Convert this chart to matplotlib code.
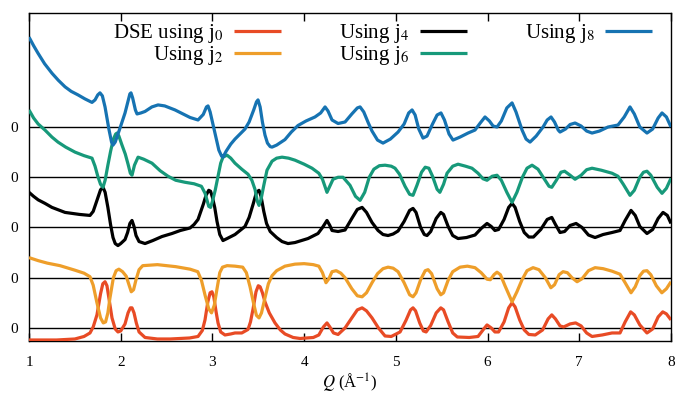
import matplotlib
matplotlib.use("Agg")
import matplotlib.pyplot as plt
import numpy as np

plt.rcParams['font.family'] = ['Liberation Serif', 'DejaVu Serif']
plt.rcParams['mathtext.fontset'] = 'stix'

# ---- data (Q in 1/Angstrom, value relative to each curve's own zero line) ----
q_j0 = [1.00, 1.30, 1.50, 1.60, 1.665, 1.70, 1.741, 1.78, 1.805, 1.829, 1.85, 1.875, 1.905, 1.94, 1.97, 2.00,
        2.047, 2.08, 2.105, 2.123, 2.145, 2.17, 2.20, 2.265, 2.40, 2.54, 2.75, 2.843, 2.89, 2.919, 2.95, 2.975,
        2.995, 3.015, 3.04, 3.061, 3.09, 3.137, 3.20, 3.246, 3.32, 3.388, 3.415, 3.443, 3.475, 3.50, 3.52, 3.545,
        3.573, 3.62, 3.682, 3.74, 3.791, 3.88, 3.955, 4.10, 4.16, 4.21, 4.249, 4.28, 4.32, 4.37, 4.446, 4.52,
        4.58, 4.632, 4.68, 4.74, 4.81, 4.882, 4.95, 5.046, 5.11, 5.16, 5.187, 5.215, 5.26, 5.30, 5.33, 5.38,
        5.44, 5.49, 5.52, 5.57, 5.62, 5.67, 5.80, 5.896, 5.95, 5.994, 6.04, 6.08, 6.12, 6.18, 6.23, 6.267,
        6.30, 6.35, 6.40, 6.45, 6.52, 6.60, 6.66, 6.70, 6.74, 6.79, 6.83, 6.90, 6.96, 7.02, 7.08, 7.139, 7.25,
        7.357, 7.444, 7.50, 7.56, 7.60, 7.66, 7.738, 7.80, 7.86, 7.91, 7.95, 8.00]
v_j0 = [-0.24, -0.24, -0.22, -0.17, -0.10, 0.02, 0.26, 0.68, 0.88, 0.92, 0.84, 0.55, 0.20, -0.02, -0.08, -0.06,
        0.08, 0.30, 0.40, 0.40, 0.30, 0.10, -0.08, -0.19, -0.22, -0.22, -0.20, -0.17, -0.05, 0.16, 0.52, 0.70,
        0.72, 0.62, 0.32, 0.10, -0.08, -0.14, -0.12, -0.10, -0.10, -0.03, 0.12, 0.38, 0.72, 0.84, 0.82, 0.70,
        0.52, 0.30, 0.10, -0.04, -0.12, -0.19, -0.21, -0.19, -0.14, 0.02, 0.10, 0.02, -0.10, -0.13, 0.00, 0.20,
        0.36, 0.40, 0.34, 0.20, 0.00, -0.16, -0.17, -0.08, 0.15, 0.36, 0.40, 0.34, 0.10, -0.06, -0.08, 0.05,
        0.30, 0.40, 0.36, 0.12, -0.10, -0.18, -0.19, -0.17, -0.04, 0.06, 0.00, -0.08, -0.08, 0.12, 0.40, 0.50,
        0.42, 0.16, -0.04, -0.13, -0.14, -0.04, 0.18, 0.26, 0.18, 0.04, 0.02, 0.08, 0.10, 0.04, -0.10, -0.17, -0.14,
        -0.10, -0.10, 0.12, 0.32, 0.26, 0.06, -0.10, -0.02, 0.22, 0.32, 0.28, 0.16]

q_j2 = [1.00, 1.10, 1.20, 1.338, 1.50, 1.60, 1.665, 1.70, 1.741, 1.78, 1.81, 1.835, 1.86, 1.883, 1.92, 1.95,
        1.98, 2.02, 2.06, 2.09, 2.115, 2.14, 2.167, 2.20, 2.24, 2.40, 2.60, 2.756, 2.84, 2.88, 2.92, 2.96, 2.99,
        3.02, 3.05, 3.08, 3.11, 3.16, 3.246, 3.33, 3.37, 3.41, 3.45, 3.48, 3.508, 3.535, 3.573, 3.61, 3.65, 3.70,
        3.791, 3.90, 4.00, 4.10, 4.16, 4.20, 4.238, 4.27, 4.304, 4.35, 4.40, 4.446, 4.52, 4.58, 4.632, 4.68,
        4.74, 4.80, 4.86, 4.915, 4.97, 5.024, 5.09, 5.15, 5.187, 5.22, 5.27, 5.32, 5.351, 5.39, 5.45, 5.49,
        5.52, 5.57, 5.62, 5.70, 5.78, 5.863, 5.93, 5.994, 6.03, 6.07, 6.103, 6.14, 6.19, 6.267, 6.32, 6.376,
        6.43, 6.496, 6.56, 6.63, 6.69, 6.73, 6.78, 6.823, 6.87, 6.92, 6.976, 7.03, 7.10, 7.172, 7.26, 7.357,
        7.444, 7.50, 7.564, 7.61, 7.66, 7.70, 7.738, 7.78, 7.84, 7.90, 7.95, 8.00]
v_j2 = [0.40, 0.34, 0.29, 0.24, 0.15, 0.09, 0.02, -0.15, -0.50, -0.80, -0.90, -0.88, -0.70, -0.40, 0.00, 0.14,
        0.17, 0.12, 0.03, -0.14, -0.28, -0.24, -0.04, 0.16, 0.24, 0.26, 0.22, 0.17, 0.12, -0.05, -0.35, -0.62, -0.70,
        -0.55, -0.22, 0.10, 0.21, 0.24, 0.23, 0.21, 0.10, -0.18, -0.52, -0.75, -0.80, -0.70, -0.40, -0.12, 0.04, 0.14,
        0.23, 0.27, 0.28, 0.26, 0.23, 0.10, -0.10, -0.02, 0.12, 0.14, 0.09, 0.00, -0.22, -0.36, -0.38, -0.30,
        -0.10, 0.08, 0.18, 0.21, 0.19, 0.12, -0.10, -0.34, -0.38, -0.30, -0.04, 0.14, 0.16, 0.08, -0.22, -0.34,
        -0.30, -0.05, 0.12, 0.21, 0.23, 0.20, 0.10, -0.03, -0.04, 0.06, 0.11, 0.06, -0.16, -0.48, -0.28, -0.04,
        0.14, 0.20, 0.16, 0.00, -0.20, -0.14, 0.06, 0.12, 0.10, 0.00, -0.08, -0.02, 0.14, 0.20, 0.18, 0.13,
        0.07, -0.10, -0.30, -0.18, 0.04, 0.13, 0.14, 0.06, -0.16, -0.30, -0.22, -0.08]

q_j4 = [1.00, 1.05, 1.10, 1.174, 1.25, 1.393, 1.55, 1.665, 1.70, 1.741, 1.78, 1.807, 1.83, 1.86, 1.89, 1.916,
        1.94, 1.97, 2.00, 2.047, 2.075, 2.10, 2.123, 2.145, 2.167, 2.20, 2.265, 2.35, 2.45, 2.559, 2.65, 2.756,
        2.80, 2.843, 2.87, 2.90, 2.93, 2.96, 2.98, 3.00, 3.025, 3.05, 3.08, 3.115, 3.16, 3.246, 3.30, 3.355, 3.40,
        3.443, 3.48, 3.508, 3.53, 3.56, 3.59, 3.63, 3.70, 3.759, 3.824, 3.90, 4.042, 4.151, 4.20, 4.249, 4.28,
        4.304, 4.37, 4.446, 4.52, 4.58, 4.632, 4.68, 4.74, 4.806, 4.86, 4.915, 4.97, 5.024, 5.09, 5.15, 5.187,
        5.22, 5.27, 5.31, 5.34, 5.38, 5.44, 5.49, 5.52, 5.57, 5.62, 5.678, 5.77, 5.863, 5.93, 5.994, 6.04, 6.08,
        6.12, 6.18, 6.23, 6.267, 6.30, 6.35, 6.40, 6.45, 6.50, 6.58, 6.65, 6.70, 6.74, 6.79, 6.84, 6.90, 6.965,
        7.03, 7.10, 7.172, 7.26, 7.357, 7.444, 7.50, 7.564, 7.61, 7.66, 7.738, 7.80, 7.86, 7.913, 7.96, 8.00]
v_j4 = [0.70, 0.62, 0.55, 0.48, 0.40, 0.30, 0.26, 0.24, 0.32, 0.54, 0.75, 0.80, 0.70, 0.40, 0.05, -0.20,
        -0.32, -0.36, -0.32, -0.24, -0.10, 0.08, 0.14, 0.02, -0.16, -0.28, -0.32, -0.26, -0.18, -0.12, -0.06, -0.01,
        0.06, 0.16, 0.30, 0.46, 0.64, 0.74, 0.72, 0.60, 0.40, 0.12, -0.14, -0.26, -0.22, -0.14, -0.06, 0.02, 0.20,
        0.46, 0.70, 0.74, 0.62, 0.32, 0.08, -0.08, -0.20, -0.28, -0.32, -0.30, -0.22, -0.12, 0.00, 0.14, 0.04,
        -0.06, -0.08, -0.05, 0.18, 0.36, 0.40, 0.30, 0.10, -0.06, -0.14, -0.16, -0.13, -0.07, 0.12, 0.34, 0.38,
        0.30, 0.00, -0.14, -0.16, -0.08, 0.18, 0.30, 0.26, 0.02, -0.16, -0.22, -0.20, -0.15, -0.02, 0.08, 0.02, -0.06,
        -0.04, 0.16, 0.40, 0.48, 0.40, 0.12, -0.10, -0.19, -0.19, -0.04, 0.16, 0.20, 0.06, -0.10, -0.08, 0.04, 0.08,
        0.00, -0.15, -0.20, -0.14, -0.10, -0.06, 0.14, 0.34, 0.24, 0.02, -0.12, -0.04, 0.18, 0.30, 0.24, 0.08]

q_j6 = [1.00, 1.05, 1.10, 1.174, 1.25, 1.316, 1.40, 1.502, 1.60, 1.687, 1.72, 1.75, 1.78, 1.807, 1.83, 1.86,
        1.89, 1.92, 1.945, 1.96, 1.98, 2.014, 2.05, 2.08, 2.105, 2.123, 2.15, 2.189, 2.25, 2.341, 2.43, 2.516,
        2.60, 2.701, 2.80, 2.88, 2.92, 2.96, 2.98, 3.00, 3.03, 3.061, 3.09, 3.115, 3.159, 3.20, 3.246, 3.32,
        3.388, 3.43, 3.464, 3.49, 3.508, 3.53, 3.56, 3.595, 3.65, 3.70, 3.759, 3.83, 3.90, 4.00, 4.086, 4.16,
        4.20, 4.249, 4.28, 4.315, 4.37, 4.424, 4.50, 4.56, 4.61, 4.66, 4.71, 4.76, 4.82, 4.882, 4.95, 4.991,
        5.04, 5.10, 5.15, 5.187, 5.23, 5.28, 5.32, 5.36, 5.40, 5.45, 5.48, 5.52, 5.558, 5.62, 5.678, 5.76,
        5.83, 5.896, 5.95, 5.994, 6.05, 6.103, 6.15, 6.21, 6.267, 6.32, 6.38, 6.43, 6.485, 6.55, 6.62, 6.67,
        6.70, 6.75, 6.80, 6.84, 6.90, 6.954, 7.02, 7.08, 7.139, 7.24, 7.357, 7.422, 7.48, 7.553, 7.60, 7.66,
        7.70, 7.738, 7.78, 7.85, 7.902, 7.95, 8.00]
v_j6 = [1.34, 1.18, 1.06, 0.94, 0.80, 0.70, 0.60, 0.50, 0.43, 0.38, 0.22, 0.02, -0.14, -0.20, -0.06, 0.24,
        0.52, 0.76, 0.86, 0.88, 0.82, 0.64, 0.46, 0.26, 0.08, 0.04, 0.24, 0.40, 0.36, 0.28, 0.13, 0.02,
        -0.06, -0.10, -0.13, -0.18, -0.32, -0.58, -0.60, -0.48, -0.26, 0.02, 0.28, 0.40, 0.44, 0.38, 0.28, 0.16,
        0.06, -0.06, -0.24, -0.48, -0.56, -0.44, -0.16, 0.14, 0.32, 0.38, 0.40, 0.38, 0.34, 0.26, 0.18, 0.08,
        -0.04, -0.30, -0.18, -0.04, 0.00, 0.00, -0.16, -0.38, -0.46, -0.30, 0.00, 0.16, 0.23, 0.24, 0.22, 0.18,
        0.06, -0.18, -0.34, -0.36, -0.16, 0.10, 0.20, 0.18, 0.02, -0.24, -0.30, -0.14, 0.08, 0.22, 0.26, 0.22,
        0.18, 0.08, -0.03, -0.06, 0.02, 0.04, -0.06, -0.30, -0.50, -0.30, 0.00, 0.18, 0.24, 0.16, -0.04, -0.18,
        -0.20, -0.06, 0.10, 0.12, 0.04, -0.04, 0.04, 0.15, 0.18, 0.14, 0.08, 0.02, -0.14, -0.36, -0.26, 0.00,
        0.10, 0.12, 0.04, -0.20, -0.32, -0.22, -0.02]

q_j8 = [1.00, 1.05, 1.098, 1.17, 1.251, 1.32, 1.393, 1.46, 1.534, 1.61, 1.687, 1.72, 1.75, 1.774, 1.80, 1.829,
        1.85, 1.872, 1.90, 1.916, 1.94, 1.97, 2.00, 2.047, 2.08, 2.10, 2.112, 2.13, 2.16, 2.178, 2.22, 2.265,
        2.34, 2.407, 2.48, 2.592, 2.68, 2.756, 2.843, 2.90, 2.935, 2.952, 2.975, 3.00, 3.028, 3.07, 3.10, 3.115,
        3.15, 3.20, 3.246, 3.30, 3.355, 3.40, 3.45, 3.48, 3.497, 3.52, 3.545, 3.573, 3.60, 3.63, 3.65, 3.70,
        3.791, 3.86, 3.933, 4.02, 4.118, 4.18, 4.228, 4.26, 4.304, 4.37, 4.446, 4.52, 4.58, 4.61, 4.65, 4.70,
        4.74, 4.80, 4.86, 4.94, 5.024, 5.09, 5.14, 5.177, 5.21, 5.25, 5.296, 5.34, 5.40, 5.45, 5.492, 5.53,
        5.58, 5.623, 5.70, 5.787, 5.863, 5.92, 5.972, 6.02, 6.06, 6.103, 6.15, 6.21, 6.267, 6.31, 6.376, 6.42,
        6.463, 6.53, 6.605, 6.65, 6.692, 6.73, 6.77, 6.79, 6.85, 6.90, 6.954, 7.02, 7.08, 7.139, 7.22, 7.313,
        7.422, 7.49, 7.553, 7.60, 7.66, 7.738, 7.80, 7.86, 7.902, 7.95, 8.00]
v_j8 = [1.79, 1.62, 1.47, 1.26, 1.07, 0.93, 0.80, 0.71, 0.64, 0.56, 0.49, 0.54, 0.64, 0.68, 0.62, 0.40,
        0.18, -0.05, -0.30, -0.36, -0.30, -0.14, 0.02, 0.28, 0.52, 0.66, 0.68, 0.58, 0.34, 0.26, 0.28, 0.31,
        0.40, 0.44, 0.42, 0.34, 0.26, 0.19, 0.14, 0.25, 0.40, 0.42, 0.30, 0.10, -0.12, -0.46, -0.58, -0.60,
        -0.48, -0.34, -0.24, -0.14, -0.04, 0.10, 0.34, 0.50, 0.54, 0.40, 0.10, -0.16, -0.32, -0.39, -0.40, -0.36,
        -0.25, -0.10, 0.03, 0.12, 0.20, 0.28, 0.40, 0.32, 0.14, 0.07, 0.10, 0.26, 0.38, 0.40, 0.30, 0.08,
        -0.08, -0.26, -0.32, -0.24, -0.10, 0.06, 0.28, 0.34, 0.24, -0.04, -0.22, -0.18, 0.06, 0.24, 0.28, 0.14,
        -0.14, -0.26, -0.20, -0.12, -0.06, 0.08, 0.20, 0.12, 0.02, 0.00, 0.12, 0.38, 0.48, 0.30, -0.06, -0.24,
        -0.30, -0.18, 0.00, 0.14, 0.20, 0.10, -0.06, -0.10, -0.04, 0.05, 0.08, 0.02, -0.08, -0.12, -0.08, 0.00,
        0.04, 0.20, 0.40, 0.26, 0.00, -0.12, -0.04, 0.18, 0.28, 0.20, 0.00]

labels = ['DSE using j$_0$', 'Using j$_2$', 'Using j$_4$', 'Using j$_6$', 'Using j$_8$']
colors = ['#E84B25', '#EE9E2A', '#000000', '#17997A', '#1673B2']
offsets = [0, 1, 2, 3, 4]
x_ticks = [1, 2, 3, 4, 5, 6, 7, 8]

series = [(q_j0, v_j0), (q_j2, v_j2), (q_j4, v_j4), (q_j6, v_j6), (q_j8, v_j8)]

fig = plt.figure(figsize=(6.77, 3.95), dpi=100)
ax = fig.add_axes([29 / 677, 1 - 341 / 395, (671 - 29) / 677, (341 - 13) / 395])

for (q, v), off, c, lab in zip(series, offsets, colors, labels):
    ax.plot(q, np.asarray(v) + off, color=c, lw=2.3, label=lab,
            solid_joinstyle='round', solid_capstyle='butt', zorder=3)

ax.set_xlim(1, 8)
ax.set_ylim(-0.26, 6.27)
ax.set_xticks(x_ticks)
ax.set_xticklabels([str(t) for t in x_ticks])
ax.set_yticks(offsets)
ax.set_yticklabels(['0'] * len(offsets))
ax.yaxis.grid(True, color='black', lw=1.0, zorder=1)
ax.set_axisbelow(True)

ax.tick_params(axis='x', direction='in', length=5.5, width=1.0, top=True, bottom=True,
               pad=11, labelsize=11)
ax.tick_params(axis='y', length=0, pad=8, labelsize=11)
for s in ax.spines.values():
    s.set_linewidth(1.0)

ax.set_xlabel('$Q$ (Å$^{-1}$)', fontsize=12, labelpad=2)

leg = ax.legend(loc='upper right', bbox_to_anchor=(0.9704, 0.973), ncol=3, markerfirst=False,
                frameon=False, fontsize=15, handlelength=2.25, handletextpad=0.5,
                columnspacing=2.8, labelspacing=-0.05, borderaxespad=0.0,
                borderpad=0.0)

fig.savefig('out.png', dpi=100)
